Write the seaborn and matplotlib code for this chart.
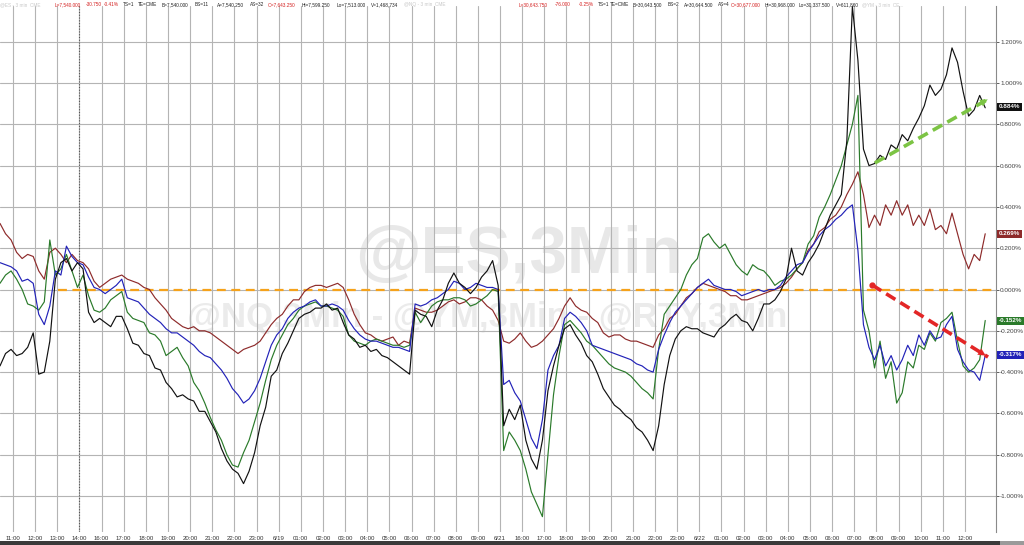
import matplotlib
matplotlib.use('Agg')
import matplotlib.pyplot as plt
import matplotlib.transforms as mtransforms
from matplotlib.patches import Rectangle
import seaborn as sns
import pandas as pd
import numpy as np

# ---- data: % change, one value per 15 minutes (index units = hours on the axis) ----
T0 = -0.587
STEP = 0.25

es_pct = [-0.37, -0.31, -0.29, -0.32, -0.31, -0.28, -0.21, -0.41, -0.40, -0.25,
          0.05, 0.13, 0.15, 0.09, 0.13, 0.10, -0.11, -0.16, -0.14, -0.16,
          -0.18, -0.13, -0.13, -0.19, -0.26, -0.27, -0.31, -0.32, -0.38, -0.39,
          -0.45, -0.48, -0.52, -0.51, -0.53, -0.54, -0.59, -0.59, -0.64, -0.69,
          -0.77, -0.83, -0.87, -0.89, -0.94, -0.88, -0.79, -0.66, -0.57, -0.42,
          -0.39, -0.31, -0.26, -0.20, -0.14, -0.12, -0.11, -0.09, -0.09, -0.07,
          -0.10, -0.09, -0.16, -0.22, -0.24, -0.28, -0.27, -0.30, -0.29, -0.32,
          -0.33, -0.35, -0.37, -0.39, -0.41, -0.10, -0.12, -0.13, -0.18, -0.10,
          -0.05, 0.03, 0.08, 0.03, 0.01, -0.02, 0.01, 0.06, 0.09, 0.14,
          0.02, -0.66, -0.58, -0.63, -0.56, -0.73, -0.82, -0.87, -0.73, -0.49,
          -0.37, -0.27, -0.19, -0.17, -0.22, -0.26, -0.32, -0.35, -0.41, -0.48,
          -0.52, -0.56, -0.58, -0.61, -0.63, -0.67, -0.69, -0.73, -0.78, -0.66,
          -0.46, -0.32, -0.24, -0.20, -0.18, -0.19, -0.19, -0.21, -0.22, -0.23,
          -0.19, -0.17, -0.14, -0.12, -0.15, -0.16, -0.20, -0.14, -0.07, -0.07,
          -0.05, -0.01, 0.05, 0.20, 0.09, 0.07, 0.13, 0.17, 0.22, 0.29,
          0.36, 0.41, 0.46, 0.72, 1.37, 1.11, 0.68, 0.60, 0.61, 0.65,
          0.63, 0.70, 0.68, 0.75, 0.72, 0.78, 0.83, 0.89, 0.99, 0.94,
          0.97, 1.04, 1.17, 1.10, 0.96, 0.84, 0.87, 0.94, 0.88]

rty_pct = [0.03, 0.07, 0.09, 0.05, 0.00, -0.07, -0.08, -0.10, -0.06, 0.24,
           0.07, 0.10, 0.17, 0.09, 0.01, 0.07, -0.03, -0.10, -0.11, -0.09,
           -0.05, -0.03, -0.01, -0.11, -0.14, -0.15, -0.16, -0.21, -0.22, -0.25,
           -0.32, -0.30, -0.28, -0.33, -0.37, -0.45, -0.49, -0.55, -0.62, -0.68,
           -0.73, -0.80, -0.85, -0.86, -0.79, -0.73, -0.64, -0.55, -0.44, -0.34,
           -0.27, -0.22, -0.17, -0.14, -0.10, -0.08, -0.07, -0.06, -0.08, -0.08,
           -0.09, -0.10, -0.13, -0.22, -0.25, -0.26, -0.27, -0.25, -0.24, -0.25,
           -0.26, -0.27, -0.27, -0.28, -0.27, -0.11, -0.16, -0.12, -0.08, -0.06,
           -0.05, -0.05, -0.04, -0.04, -0.05, -0.08, -0.07, -0.05, -0.03, 0.00,
           -0.01, -0.78, -0.69, -0.73, -0.78, -0.87, -0.98, -1.04, -1.10, -0.80,
           -0.51, -0.32, -0.17, -0.15, -0.18, -0.21, -0.25, -0.27, -0.30, -0.33,
           -0.36, -0.38, -0.39, -0.40, -0.42, -0.45, -0.48, -0.50, -0.53, -0.29,
           -0.12, -0.08, -0.04, 0.00, 0.07, 0.12, 0.15, 0.25, 0.27, 0.23,
           0.20, 0.22, 0.17, 0.12, 0.09, 0.07, 0.12, 0.10, 0.09, 0.06,
           0.02, 0.04, 0.05, 0.07, 0.10, 0.13, 0.22, 0.26, 0.35, 0.40,
           0.46, 0.53, 0.60, 0.70, 0.80, 0.94, -0.10, -0.20, -0.38, -0.25,
           -0.43, -0.35, -0.55, -0.50, -0.35, -0.38, -0.27, -0.29, -0.21, -0.25,
           -0.16, -0.14, -0.11, -0.25, -0.37, -0.40, -0.38, -0.34, -0.15]

ym_pct = [0.13, 0.12, 0.11, 0.09, 0.04, 0.05, 0.03, -0.12, -0.17, -0.08,
          0.09, 0.07, 0.21, 0.16, 0.13, 0.12, 0.06, 0.01, 0.00, -0.02,
          0.00, 0.02, 0.05, -0.04, -0.05, -0.06, -0.09, -0.12, -0.14, -0.16,
          -0.19, -0.21, -0.21, -0.23, -0.25, -0.27, -0.30, -0.32, -0.33, -0.36,
          -0.39, -0.43, -0.48, -0.51, -0.55, -0.53, -0.49, -0.43, -0.35, -0.27,
          -0.22, -0.19, -0.14, -0.11, -0.09, -0.08, -0.06, -0.05, -0.08, -0.08,
          -0.07, -0.08, -0.10, -0.15, -0.19, -0.22, -0.24, -0.25, -0.25, -0.26,
          -0.27, -0.28, -0.28, -0.29, -0.30, -0.07, -0.08, -0.07, -0.05, -0.04,
          -0.02, 0.00, 0.04, 0.03, 0.00, 0.01, 0.03, 0.02, 0.01, 0.01,
          0.00, -0.46, -0.44, -0.50, -0.54, -0.63, -0.72, -0.77, -0.63, -0.39,
          -0.32, -0.27, -0.14, -0.11, -0.13, -0.16, -0.20, -0.27, -0.28, -0.29,
          -0.30, -0.31, -0.32, -0.33, -0.34, -0.36, -0.37, -0.39, -0.40, -0.29,
          -0.22, -0.16, -0.11, -0.08, -0.05, -0.02, 0.01, 0.03, 0.05, 0.02,
          0.01, 0.00, 0.00, -0.01, -0.03, -0.02, -0.01, 0.00, -0.01, 0.00,
          0.00, 0.02, 0.06, 0.09, 0.12, 0.13, 0.18, 0.22, 0.26, 0.29,
          0.31, 0.34, 0.36, 0.39, 0.41, 0.19, -0.17, -0.28, -0.34, -0.27,
          -0.37, -0.32, -0.39, -0.34, -0.27, -0.32, -0.22, -0.27, -0.20, -0.24,
          -0.23, -0.17, -0.13, -0.29, -0.35, -0.39, -0.40, -0.44, -0.32]

nq_pct = [0.32, 0.27, 0.24, 0.18, 0.15, 0.17, 0.16, 0.09, 0.05, 0.18,
          0.20, 0.17, 0.13, 0.17, 0.14, 0.13, 0.10, 0.04, 0.01, 0.03,
          0.05, 0.06, 0.07, 0.05, 0.04, 0.03, 0.01, 0.00, -0.04, -0.07,
          -0.10, -0.14, -0.16, -0.18, -0.19, -0.18, -0.20, -0.20, -0.21, -0.23,
          -0.25, -0.27, -0.29, -0.31, -0.29, -0.28, -0.27, -0.25, -0.21, -0.17,
          -0.14, -0.12, -0.08, -0.05, -0.05, -0.01, 0.01, 0.02, 0.02, 0.01,
          0.02, 0.03, 0.01, -0.05, -0.12, -0.17, -0.21, -0.22, -0.24, -0.25,
          -0.24, -0.23, -0.27, -0.25, -0.26, -0.09, -0.10, -0.11, -0.11, -0.10,
          -0.08, -0.06, -0.05, -0.07, -0.06, -0.04, -0.04, -0.05, -0.08, -0.10,
          -0.15, -0.25, -0.26, -0.24, -0.21, -0.25, -0.28, -0.27, -0.25, -0.22,
          -0.19, -0.14, -0.08, -0.04, -0.08, -0.10, -0.11, -0.14, -0.16, -0.21,
          -0.23, -0.22, -0.22, -0.24, -0.25, -0.25, -0.26, -0.27, -0.28, -0.22,
          -0.19, -0.14, -0.12, -0.08, -0.04, -0.02, 0.01, 0.03, 0.02, 0.01,
          0.00, -0.01, -0.03, -0.03, -0.05, -0.05, -0.04, -0.03, -0.02, -0.01,
          0.00, 0.01, 0.03, 0.06, 0.10, 0.13, 0.19, 0.22, 0.28, 0.30,
          0.34, 0.36, 0.40, 0.46, 0.51, 0.57, 0.46, 0.30, 0.36, 0.31,
          0.41, 0.36, 0.43, 0.36, 0.41, 0.31, 0.36, 0.31, 0.39, 0.29,
          0.31, 0.27, 0.37, 0.27, 0.17, 0.10, 0.17, 0.14, 0.27]

series_names = ['NQ', 'RTY', 'YM', 'ES']
series_colors = ['#8e2b2b', '#2a7a2a', '#2222b8', '#111111']
last_values = [0.269, -0.152, -0.317, 0.884]

x_labels = ['11:00', '12:00', '13:00', '14:00', '16:00', '17:00', '18:00', '19:00',
            '20:00', '21:00', '22:00', '23:00', '6/19', '01:00', '02:00', '03:00',
            '04:00', '05:00', '06:00', '07:00', '08:00', '09:00', '6/21', '16:00',
            '17:00', '18:00', '19:00', '20:00', '21:00', '22:00', '23:00', '6/22',
            '01:00', '02:00', '03:00', '04:00', '05:00', '06:00', '07:00', '08:00',
            '09:00', '10:00', '11:00', '12:00']
y_ticks = [-1.0, -0.8, -0.6, -0.4, -0.2, 0.0, 0.2, 0.4, 0.6, 0.8, 1.0, 1.2]

# trend arrows drawn on the chart (time index, %)
green_arrow = [(38.93, 0.613), (44.13, 0.927)]
red_arrow = [(38.80, 0.022), (44.04, -0.327)]

header = [
    ('@ES - 3 min  CME', '#c8c8c8'), ('L=7,540.000', '#d42020'), ('-30.750', '#d42020'),
    ('-0.41%', '#d42020'), ('TS=1', '#222'), ('TE=CME', '#222'), ('B=7,540.000', '#222'),
    ('BS=11', '#222'), ('A=7,540.250', '#222'), ('AS=32', '#222'), ('O=7,643.250', '#d42020'),
    ('Hi=7,599.250', '#222'), ('Lo=7,513.000', '#222'), ('V=1,468,734', '#222'),
    ('@NQ - 3 min  CME', '#c8c8c8'), ('L=30,643.750', '#d42020'), ('-76.000', '#d42020'),
    ('-0.25%', '#d42020'), ('TS=1', '#222'), ('TE=CME', '#222'), ('B=30,643.500', '#222'),
    ('BS=2', '#222'), ('A=30,644.500', '#222'), ('AS=4', '#222'), ('O=30,677.000', '#d42020'),
    ('Hi=30,968.000', '#222'), ('Lo=30,337.500', '#222'), ('V=611,860', '#222'),
    ('@YM - 3 min  CE...', '#c8c8c8'),
]
header_x = [0, 55, 86, 104, 123, 138, 162, 195, 217, 250, 268, 302, 337, 371,
            404, 519, 555, 579, 598, 610, 633, 668, 684, 718, 731, 765, 799, 836, 862]

# ---- build long-form frame ----
frames = []
for name, vals in zip(series_names, [nq_pct, rty_pct, ym_pct, es_pct]):
    t = T0 + STEP * np.arange(len(vals))
    frames.append(pd.DataFrame({'t': t, 'pct': vals, 'series': name}))
df = pd.concat(frames, ignore_index=True)

sns.set_style('white')
plt.rcParams['font.family'] = ['Liberation Sans', 'DejaVu Sans']

W, H = 1024, 545
fig = plt.figure(figsize=(W / 100, H / 100), dpi=100)
fig.patch.set_facecolor('white')
ax = fig.add_axes([0, 1 - 532 / H, 996 / W, (532 - 6) / H])
ax.set_xlim(-0.587, 44.40)
ax.set_ylim(-1.1743, 1.3729)

# watermarks
ax.text(15.45, 0.0847, '@ES,3Min', fontsize=48.5, fontweight='bold', color='#e8e8e8',
        ha='left', va='baseline', zorder=0.5)
ax.text(7.86, -0.1816, '@NQ,3Min - @YM,3Min - @RTY,3Min', fontsize=25, fontweight='bold',
        color='#ebebeb', ha='left', va='baseline', zorder=0.5)

ax.hlines(0, 2.03, 44.4, colors='#f5a21b', linestyles=(0, (4, 2.5)), lw=1.6, zorder=2.5)
ax.axvline(3, color='#555555', ls=(0, (1, 1.5)), lw=0.8, zorder=1.6)

sns.lineplot(data=df, x='t', y='pct', hue='series', hue_order=series_names,
             palette=dict(zip(series_names, series_colors)), estimator=None,
             sort=False, lw=0.85, legend=False, ax=ax, zorder=3)

# arrows: dashed shaft + solid head
for (p0, p1), col in [(green_arrow, '#7cc444'), (red_arrow, '#e32626')]:
    ax.plot([p0[0], p1[0]], [p0[1], p1[1]], color=col, lw=2.6, ls=(0, (3, 1.6)),
            zorder=4, solid_capstyle='butt', dash_capstyle='butt')
    back = (p1[0] - 0.12 * (p1[0] - p0[0]), p1[1] - 0.12 * (p1[1] - p0[1]))
    ax.annotate('', xy=p1, xytext=back,
                arrowprops=dict(arrowstyle='-|>', color=col, lw=0.1, mutation_scale=13),
                zorder=5)
ax.plot(*red_arrow[0], marker='o', ms=3.5, color='#e32626', zorder=5)

# axes styling
ax.grid(True, color='#b4b4b4', lw=0.8)
ax.set_xticks(range(len(x_labels)))
ax.set_xticklabels(x_labels)
ax.set_yticks(y_ticks)
ax.set_yticklabels([f'{v:.3f}%' for v in y_ticks])
ax.yaxis.tick_right()
ax.tick_params(axis='x', length=0, labelsize=4.4, colors='#333333', pad=3)
ax.tick_params(axis='y', length=2, labelsize=4.6, colors='#444444', pad=1, width=0.6)
ax.set_xlabel('')
ax.set_ylabel('')
for s in ['left', 'top', 'bottom']:
    ax.spines[s].set_visible(False)
ax.spines['right'].set_color('#8a8a8a')
ax.spines['right'].set_linewidth(0.8)

# last-value badges on the right axis
trans = mtransforms.blended_transform_factory(ax.transAxes, ax.transData)
for val, col in zip(last_values, series_colors):
    ax.text(1.003, val, f'{val:.3f}%', transform=trans, fontsize=4.5, fontweight='bold',
            color='white', ha='left', va='center', clip_on=False, zorder=6,
            bbox=dict(boxstyle='square,pad=0.3', fc=col, ec='none'))

# header line
for (txt, col), x in zip(header, header_x):
    fig.text(x / W, 1 - 4.5 / H, txt, fontsize=3.4, color=col, ha='left', va='center')

# bottom status bar
fig.patches.append(Rectangle((0, 0), 1, 4 / H, transform=fig.transFigure,
                             facecolor='#3a3a3a', edgecolor='none'))
fig.patches.append(Rectangle((1000 / W, 0), 24 / W, 4 / H, transform=fig.transFigure,
                             facecolor='#9a9a9a', edgecolor='none'))

fig.savefig('out.png', dpi=100)
plt.close(fig)
